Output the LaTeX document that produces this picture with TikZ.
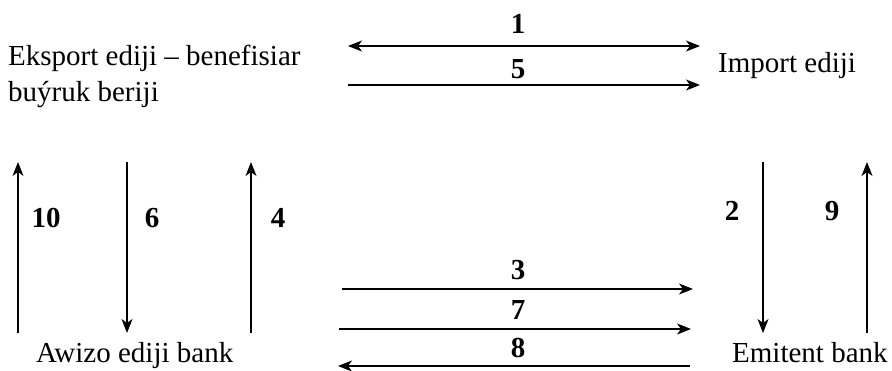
\documentclass[tikz,border=0pt]{standalone}
\usepackage{fontspec}
\setmainfont{Liberation Serif}
\usetikzlibrary{arrows.meta}
\usetikzlibrary{calc}

\tikzset{
  >={Stealth[length=14pt,width=11pt,inset=4pt]},
  party/.style={inner sep=0pt, font=\fontsize{29}{36}\selectfont},
  num/.style={inner sep=0pt, font=\fontsize{29}{36}\selectfont\bfseries},
  flow/.style={line width=1.3pt}
}

\begin{document}
\begin{tikzpicture}[x=1pt,y=-1pt]

      \useasboundingbox (0,0) rectangle (892,370);

      % parties
      \node[party,anchor=north west,align=left] (exp) at (8,44.5)
        {Eksport ediji – benefisiar\\buýruk beriji};
      \node[party,anchor=base west] (imp) at (718,72) {Import ediji};
      \node[party,anchor=base west] (adv) at (36,362) {Awizo ediji bank};
      \node[party,anchor=base west] (iss) at (732,362) {Emitent bank};

      % vertical flows
      \foreach \name/\x/\ya/\yb/\lab/\lx/\ly in {
        f10/18/333/162/10/46/218,
        f6/127/162/333/6/152/218,
        f4/251/333/162/4/278/218,
        f2/763/162/333/2/732/211,
        f9/867/333/162/9/832/211}
      {
        \coordinate (\name s) at (\x,\ya);
        \coordinate (\name e) at (\x,\yb);
        \draw[flow,->] (\name s) -- (\name e);
        \node[num] (\name l) at (\lx,\ly) {\lab};
      }

      % horizontal flows
      \foreach \name/\xa/\xb/\y/\lab/\ly in {
        f5/348/700/85/5/69,
        f3/342/693/289/3/270,
        f7/339/691/329/7/310,
        f8/690/338/366/8/348}
      {
        \coordinate (\name s) at (\xa,\y);
        \coordinate (\name e) at (\xb,\y);
        \draw[flow,->] (\name s) -- (\name e);
        \node[num] (\name l) at (518,\ly) {\lab};
      }

      % two-way flow
      \coordinate (f1s) at (348,46);
      \coordinate (f1e) at (700,46);
      \draw[flow,<->] (f1s) -- (f1e);
      \node[num] (f1l) at (518,24) {1};

    \end{tikzpicture}
\end{document}
